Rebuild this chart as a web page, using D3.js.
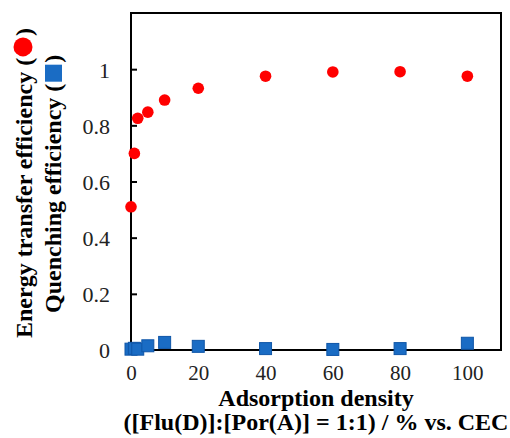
<!DOCTYPE html>
<html>
<head>
<meta charset="utf-8">
<script src="https://cdn.jsdelivr.net/npm/d3@7"></script>
<style>
  body { margin: 0; background: #fff; }
  svg { display: block; }
</style>
</head>
<body>
<div id="chart"></div>
<script>
const density = [0, 1, 2, 5, 10, 20, 40, 60, 80, 100];
const energyTransfer = [0.51, 0.70, 0.825, 0.847, 0.89, 0.932, 0.975, 0.99, 0.991, 0.975];
const quenching = [0.003, 0.006, 0.003, 0.015, 0.027, 0.013, 0.005, 0.002, 0.005, 0.024];
const xTicks = [0, 20, 40, 60, 80, 100];
const yTicks = [0, 0.2, 0.4, 0.6, 0.8, 1];

const W = 510, H = 438;
const margin = { left: 131, right: 9, top: 13, bottom: 88 };

const svg = d3.select("#chart").append("svg")
  .attr("width", W)
  .attr("height", H);

const x = d3.scaleLinear().domain([0, 110]).range([margin.left, W - margin.right]);
const y = d3.scaleLinear().domain([0, 1.2]).range([H - margin.bottom, margin.top]);

const font = '"Liberation Serif", "DejaVu Serif", serif';

// y axis, ticks pointing inside
const yAxis = svg.append("g")
  .attr("transform", `translate(${x(0)},0)`)
  .call(d3.axisRight(y).tickValues(yTicks).tickSize(6).tickFormat(d => d3.format("")(d)));
yAxis.select(".domain").remove();
yAxis.selectAll("line").attr("stroke", "#000").attr("stroke-width", 2);
yAxis.selectAll("text")
  .attr("x", -21)
  .attr("dy", "0.36em")
  .attr("text-anchor", "end")
  .attr("font-family", font)
  .attr("font-size", 22)
  .attr("fill", "#222");

// x axis labels, no tick marks
const xAxis = svg.append("g")
  .attr("transform", `translate(0,${y(0)})`)
  .call(d3.axisBottom(x).tickValues(xTicks).tickSize(0));
xAxis.select(".domain").remove();
xAxis.selectAll("text")
  .attr("y", 30)
  .attr("dy", 0)
  .attr("font-family", font)
  .attr("font-size", 21)
  .attr("fill", "#222");

// frame
svg.append("rect")
  .attr("x", x(0))
  .attr("y", y(1.2))
  .attr("width", x(110) - x(0))
  .attr("height", y(0) - y(1.2))
  .attr("fill", "none")
  .attr("stroke", "#000")
  .attr("stroke-width", 2);

// markers
svg.append("g").selectAll("rect")
  .data(density.map((d, i) => ({ x: d, y: quenching[i] })))
  .enter()
  .append("rect")
  .attr("x", d => x(d.x) - 6)
  .attr("y", d => y(d.y) - 6)
  .attr("width", 12)
  .attr("height", 12)
  .attr("fill", "#1a6cc4")
  .attr("stroke", "#0f56a8")
  .attr("stroke-width", 1);

svg.append("g").selectAll("circle")
  .data(density.map((d, i) => ({ x: d, y: energyTransfer[i] })))
  .enter()
  .append("circle")
  .attr("cx", d => x(d.x))
  .attr("cy", d => y(d.y))
  .attr("r", 5.8)
  .attr("fill", "#f00");

// x title
svg.append("text")
  .attr("x", 316)
  .attr("y", 406)
  .attr("text-anchor", "middle")
  .attr("font-family", font)
  .attr("font-size", 24)
  .attr("font-weight", "bold")
  .text("Adsorption density");

svg.append("text")
  .attr("x", 316)
  .attr("y", 430)
  .attr("text-anchor", "middle")
  .attr("font-family", font)
  .attr("font-size", 24)
  .attr("font-weight", "bold")
  .text("([Flu(D)]:[Por(A)] = 1:1) / % vs. CEC");

// y titles with inline symbols
function yTitle(label, bx, by, symbol) {
  const g = svg.append("g").attr("transform", `translate(${bx},${by}) rotate(-90)`);
  const t = g.append("text")
    .attr("font-family", font)
    .attr("font-size", 24)
    .attr("font-weight", "bold")
    .text(label + " (");
  const w = t.node().getComputedTextLength();
  let after;
  if (symbol === "circle") {
    g.append("circle").attr("cx", w + 11).attr("cy", -9).attr("r", 9.5).attr("fill", "#f00");
    after = w + 22;
  } else {
    g.append("rect").attr("x", w + 2).attr("y", -16).attr("width", 17).attr("height", 17)
      .attr("fill", "#1a6cc4");
    after = w + 21;
  }
  g.append("text")
    .attr("x", after)
    .attr("font-family", font)
    .attr("font-size", 24)
    .attr("font-weight", "bold")
    .text(")");
}

yTitle("Energy transfer efficiency", 32, 338, "circle");
yTitle("Quenching efficiency", 61, 313, "square");
</script>
</body>
</html>
